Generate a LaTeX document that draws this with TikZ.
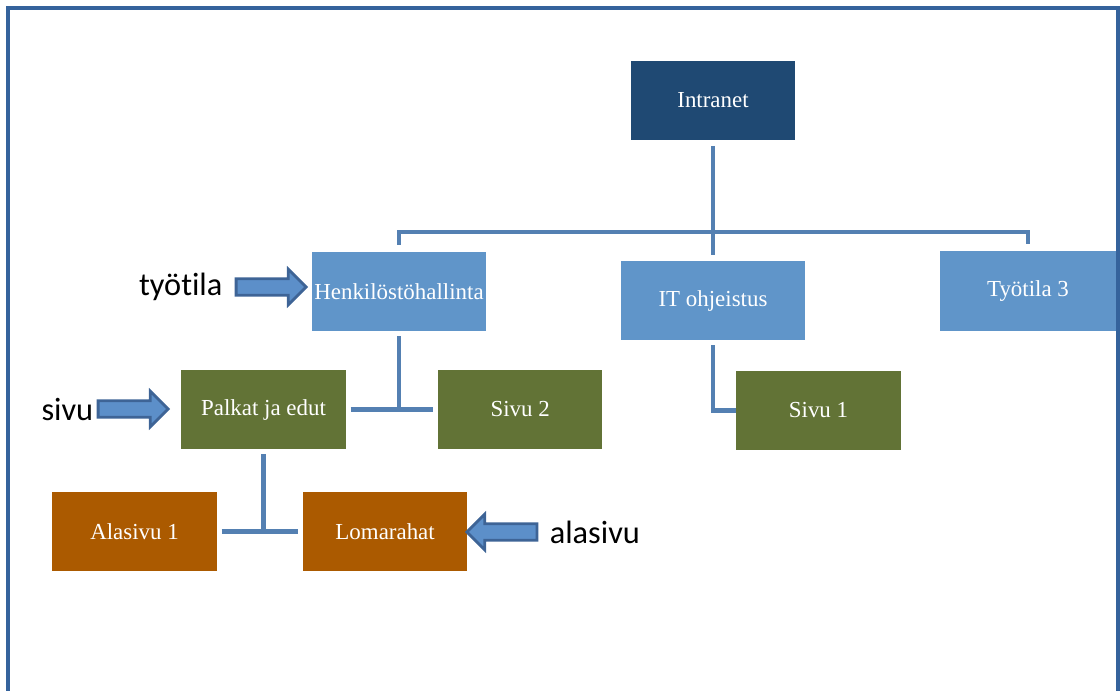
\documentclass[tikz,border=0pt]{standalone}
\usepackage{fontspec}
\setmainfont{Liberation Serif}
\newfontfamily\tagfont[Ligatures=NoCommon]{Carlito}
\usetikzlibrary{positioning,shapes.arrows}
\definecolor{intraBlue}{RGB}{31,73,115}
\definecolor{spaceBlue}{RGB}{96,149,201}
\definecolor{pageGreen}{RGB}{98,115,54}
\definecolor{subOrange}{RGB}{171,90,0}
\definecolor{lineBlue}{RGB}{84,128,178}
\definecolor{frameBlue}{RGB}{53,99,156}
\definecolor{arrowEdge}{RGB}{62,100,150}
\definecolor{arrowFill}{RGB}{92,143,201}

\begin{document}
\begin{tikzpicture}[
    x=0.025cm, y=-0.025cm,
    box/.style={
        text=white, inner sep=0pt, minimum width=4.1cm, minimum height=1.975cm,
        font=\fontsize{16.3}{18}\selectfont
    },
    space/.style={box, fill=spaceBlue},
    page/.style={box, fill=pageGreen},
    subpage/.style={box, fill=subOrange},
    conn/.style={draw=lineBlue, line width=3.5pt},
    tag/.style={inner sep=0pt, font=\tagfont\fontsize{23}{25}\selectfont},
    blockarrow/.style={
        single arrow, draw=arrowEdge, fill=arrowFill, line width=2pt,
        inner xsep=0pt, inner ysep=0.17cm, single arrow head extend=0.24cm,
        minimum height=1.75cm
    }
]
    \useasboundingbox (0,0) rectangle (1120,691);
    \draw[frameBlue, line width=2.5pt] (8,691) -- (8,8) -- (1118,8) -- (1118,691);

    % tree
    \node[box, fill=intraBlue] (intranet) at (713,100.5) {Intranet};
    \node[space, minimum width=4.35cm] (henk) at (399,291.5) {Henkilöstöhallinta};
    \node[space, minimum width=4.6cm] (it) at (713,300.5) {IT ohjeistus};
    \node[space, minimum width=4.4cm] (tt3) at (1028,291) {Työtila 3};
    \node[page] (palkat) at (263.5,409.5) {Palkat ja edut};
    \node[page, right=2.3cm of palkat] (sivu2) {Sivu 2};
    \node[page] (sivu1) at (818.5,410.5) {Sivu 1};
    \node[subpage] (alasivu1) at (134.5,531.5) {Alasivu 1};
    \node[subpage, right=2.15cm of alasivu1] (lomarahat) {Lomarahat};

    \coordinate (bus) at (713,232);
    \draw[conn, shorten <=4pt] (intranet.south) -- (bus);
    \draw[conn, shorten <=5pt, shorten >=5pt] (henk.north) |- (bus) -| (tt3.north);
    \draw[conn, shorten >=4pt] (bus) -- (it.north);
    \draw[conn, shorten <=3.5pt] (henk.south) -- (henk.south |- palkat.east);
    \draw[conn, shorten <=3.5pt, shorten >=3.5pt] (palkat.east) -- (sivu2.west);
    \draw[conn, shorten <=3.5pt] (it.south) |- (sivu1.west);
    \draw[conn, shorten <=3.5pt] (palkat.south) -- (palkat.south |- alasivu1.east);
    \draw[conn, shorten <=3.5pt, shorten >=3.5pt] (alasivu1.east) -- (lomarahat.west);

    % labels
    \node[blockarrow] (a1) at (267,287) {};
    \node[tag, left=0.3cm of a1] (tyotila) {työtila};
    \node[blockarrow] (a2) at (129,409) {};
    \node[tag, left=0.08cm of a2] (sivu) {sivu};
    \node[blockarrow, shape border rotate=180] (a3) at (506,532) {};
    \node[tag, right=0.28cm of a3] (alasivu) {alasivu};
\end{tikzpicture}
\end{document}
